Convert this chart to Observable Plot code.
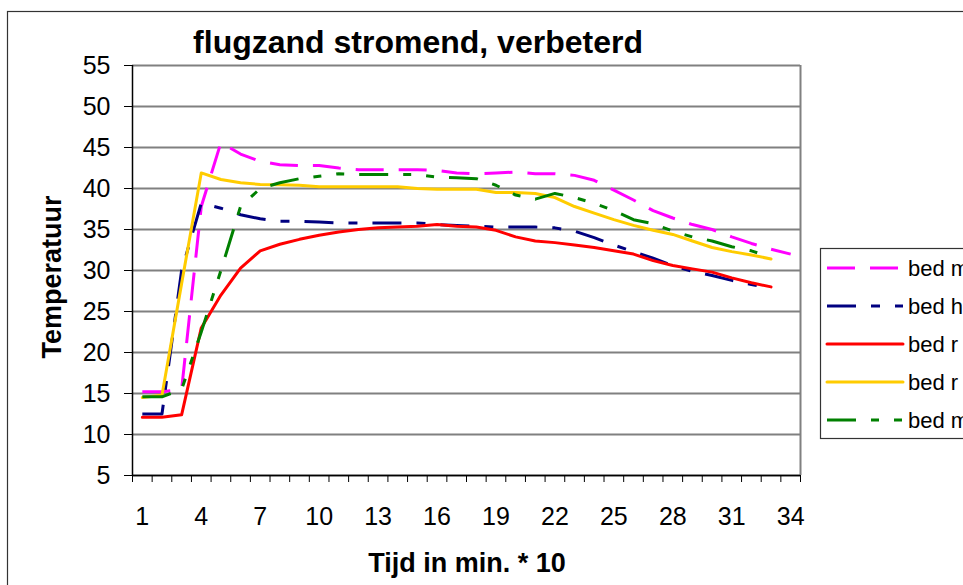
<!DOCTYPE html>
<html>
<head>
<meta charset="utf-8">
<script src="https://cdn.jsdelivr.net/npm/d3@7"></script>
<script src="https://cdn.jsdelivr.net/npm/@observablehq/plot@0.6"></script>
<style>
  html, body { margin: 0; padding: 0; background: #fff; }
  #chart { width: 963px; height: 585px; overflow: hidden; }
</style>
</head>
<body>
<div id="chart"></div>
<script>
// ---- data ----
const titleText = "flugzand stromend, verbeterd";
const xTitle = "Tijd in min. * 10";
const yTitle = "Temperatuur";
const xTickLabels = [1, 4, 7, 10, 13, 16, 19, 22, 25, 28, 31, 34];
const yTicks = [5, 10, 15, 20, 25, 30, 35, 40, 45, 50, 55];
const categoryCount = 34;
const seriesNames = ["bed m", "bed h", "bed r", "bed r", "bed m"];
const seriesColors = ["#FF00FF", "#000080", "#FF0000", "#FFCC00", "#008000"];

const bedM1 = [15.2,15.2,15.5,37.8,45.6,44.2,43.3,42.9,42.8,42.8,
               42.5,42.3,42.3,42.3,42.3,42.2,41.9,41.8,41.9,42.0,
               41.8,41.8,41.6,41.0,39.8,38.6,37.3,36.4,35.6,35.0,
               34.1,33.3,32.6,32.0];
const bedH  = [12.5,12.5,30.0,38.2,37.6,36.8,36.3,36.0,36.0,35.9,
               35.8,35.8,35.8,35.8,35.8,35.6,35.5,35.4,35.3,35.3,
               35.3,35.2,34.8,34.0,33.1,32.3,31.5,30.6,29.9,29.4,
               28.8,28.3,27.8];
const bedR1 = [12.1,12.1,12.4,23.0,27.0,30.3,32.4,33.2,33.8,34.3,
               34.7,35.0,35.2,35.3,35.4,35.6,35.4,35.3,34.9,34.1,
               33.6,33.4,33.1,32.8,32.4,32.0,31.2,30.6,30.2,29.8,
               29.1,28.5,28.0];
const bedR2 = [14.5,14.8,28.4,41.9,41.1,40.7,40.5,40.45,40.4,40.2,
               40.2,40.2,40.2,40.2,40.0,39.9,39.9,39.9,39.5,39.5,
               39.4,38.9,37.8,37.0,36.2,35.5,34.9,34.4,33.6,32.8,
               32.3,31.9,31.4];
const bedM2 = [14.6,14.6,15.5,22.5,30.0,37.8,40.0,40.7,41.2,41.5,
               41.8,41.7,41.7,41.7,41.7,41.4,41.3,41.2,40.4,39.2,
               38.7,39.4,38.9,38.2,37.3,36.2,35.7,34.8,34.1,33.6,
               32.9,32.4,31.6];

// ---- styles ----
const dashes = ["28 15", "29 15 9 15", null, null, "29 15 8 15 8 15"];
const allSeries = [bedM1, bedH, bedR1, bedR2, bedM2];
const rows = allSeries.flatMap((vals, s) => vals.map((v, i) => ({s, cat: i + 1, v})));
const boundaries = d3.range(0, categoryCount + 1).map(d => d + 0.5);

const FONT = "'Liberation Sans', Arial, sans-serif";

const chart = Plot.plot({
  width: 963,
  height: 585,
  marginLeft: 132,
  marginRight: 163,
  marginTop: 65,
  marginBottom: 110,
  style: {fontFamily: FONT, fontSize: "25px", color: "#000", background: "#fff", overflow: "hidden"},
  x: {type: "linear", domain: [0.5, categoryCount + 0.5]},
  y: {domain: [5, 55]},
  marks: [
    Plot.gridY(yTicks, {stroke: "#808080", strokeOpacity: 1, strokeWidth: 2}),
    Plot.ruleX([categoryCount + 0.5], {stroke: "#808080", strokeWidth: 2}),
    Plot.axisY(yTicks, {tickSize: 8, tickPadding: 14, label: null, fontSize: 25, stroke: "#000"}),
    Plot.axisX(boundaries, {tickSize: 7, tickFormat: () => "", label: null, stroke: "#000"}),
    Plot.axisX(xTickLabels, {tickSize: 0, tickPadding: 32, label: null, fontSize: 25}),
    ...allSeries.map((vals, s) => Plot.line(rows.filter(r => r.s === s), {
      x: "cat", y: "v",
      stroke: seriesColors[s],
      strokeWidth: 3,
      strokeDasharray: dashes[s] ?? undefined,
      strokeLinecap: dashes[s] ? "butt" : "round",
      strokeLinejoin: "round"
    })),
    Plot.ruleY([5], {stroke: "#000", strokeWidth: 1.5}),
    Plot.ruleX([0.5], {stroke: "#000", strokeWidth: 1.5})
  ]
});

const svg = d3.select(chart);
// outer chart border
svg.insert("rect", ":first-child")
  .attr("x", 7.5).attr("y", 11.5).attr("width", 1000).attr("height", 1000)
  .attr("fill", "#fff").attr("stroke", "#333").attr("stroke-width", 1.2);

// titles
svg.append("text").text(titleText)
  .attr("x", 418).attr("y", 53).attr("text-anchor", "middle")
  .attr("font-family", FONT).attr("font-weight", "bold").attr("font-size", 32).attr("fill", "#000");
svg.append("text").text(xTitle)
  .attr("x", 467).attr("y", 572).attr("text-anchor", "middle")
  .attr("font-family", FONT).attr("font-weight", "bold").attr("font-size", 27).attr("fill", "#000");
svg.append("text").text(yTitle)
  .attr("transform", "translate(61,277) rotate(-90)").attr("text-anchor", "middle")
  .attr("font-family", FONT).attr("font-weight", "bold").attr("font-size", 27).attr("fill", "#000");

// legend
const lg = svg.append("g");
lg.append("rect").attr("x", 820.5).attr("y", 248.5).attr("width", 300).attr("height", 190)
  .attr("fill", "#fff").attr("stroke", "#333").attr("stroke-width", 1.2);
const legendY = [268, 306, 344, 382, 420];
seriesNames.forEach((name, s) => {
  lg.append("line").attr("x1", 827).attr("x2", 903).attr("y1", legendY[s]).attr("y2", legendY[s])
    .attr("stroke", seriesColors[s]).attr("stroke-width", 3)
    .attr("stroke-dasharray", dashes[s] || null)
    .attr("stroke-linecap", dashes[s] ? "butt" : "round");
  lg.append("text").text(name).attr("x", 908).attr("y", legendY[s] + 8)
    .attr("text-anchor", "start")
    .attr("font-family", FONT).attr("font-size", 22).attr("fill", "#000");
});

document.getElementById("chart").appendChild(chart);
</script>
</body>
</html>
